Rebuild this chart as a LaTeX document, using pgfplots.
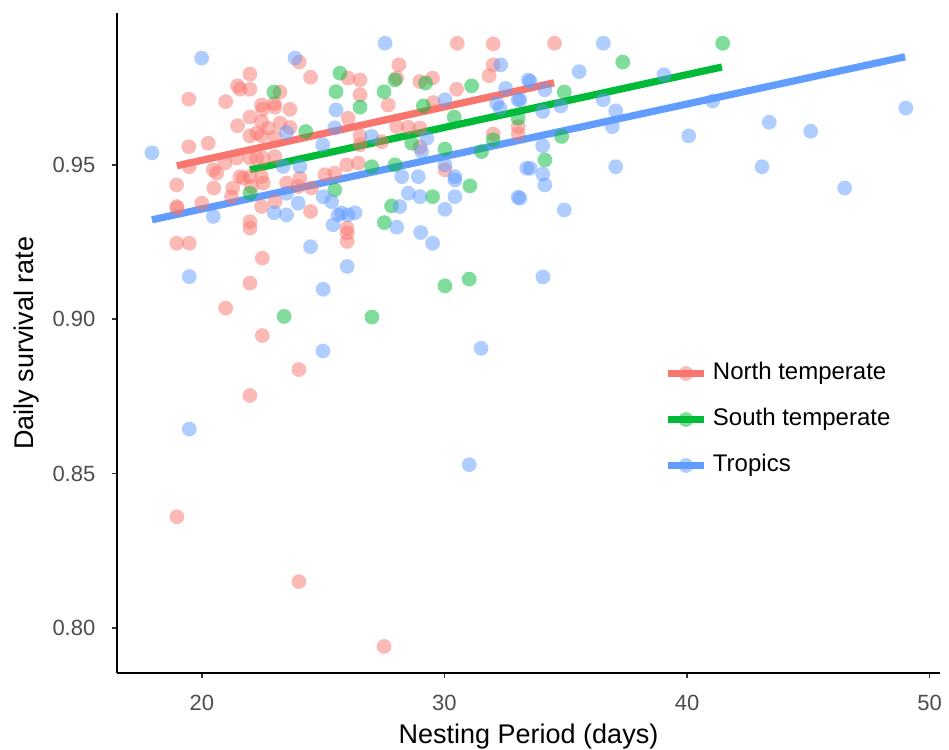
\documentclass[border=0pt]{standalone}
\usepackage{fontspec}
\setmainfont{Liberation Sans}
\usepackage{pgfplots}
\pgfplotsset{compat=1.18}

\definecolor{nt}{HTML}{F8766D}
\definecolor{st}{HTML}{00BA38}
\definecolor{tr}{HTML}{619CFF}
\definecolor{tickgrey}{HTML}{4D4D4D}

\pgfplotsset{
  pts/.style={only marks, mark=*, mark size=3.7pt, forget plot,
    color=#1, fill opacity=0.5, draw opacity=0},
  fit/.style={#1, line width=3.6pt, forget plot},
  key/.style={legend image code/.code={
    \path[draw=none, fill=none] (0pt,0pt) -- (22.5pt,0pt);
    \draw[#1, line width=3.6pt] (0pt,0pt) -- (18pt,0pt);
    \fill[#1, fill opacity=0.5, draw=none] (9pt,0pt) circle (3.7pt);}},
}

\begin{document}
\begin{tikzpicture}
\begin{axis}[
  scale only axis, width=411.5pt, height=330pt,
  xmin=16.5, xmax=50.43, ymin=0.7854, ymax=0.9992,
  axis x line*=bottom, axis y line*=left,
  axis line style={line width=1.1pt, black, -},
  tick align=outside, major tick length=2.5pt,
  tick style={line width=0.9pt, black!80},
  xtick={20,30,40,50}, ytick={0.80,0.85,0.90,0.95},
  ticklabel style={font=\fontsize{11}{13}\selectfont, text=tickgrey},
  xticklabel style={yshift=-5pt},
  yticklabel style={xshift=-4.8pt},
  yticklabel style={/pgf/number format/.cd, fixed, fixed zerofill, precision=2},
  /pgf/number format/assume math mode=true,
  xlabel={Nesting Period (days)}, ylabel={Daily survival rate},
  label style={font=\fontsize{13.5}{16}\selectfont},
  xlabel style={at={(axis description cs:0.5,-0.077)}, anchor=north, inner sep=0pt},
  ylabel style={at={(axis description cs:-0.094,0.5)}, anchor=south, inner sep=0pt},
  legend style={draw=none, fill=none, at={(axis description cs:0.6646,0.471)},
    anchor=north west, inner sep=0pt, row sep=12pt,
    font=\fontsize{12}{14}\selectfont,
    nodes={inner sep=0pt, text height=8.6pt, text depth=2.4pt}},
  legend cell align=left,
]
% North temperate
\addplot[pts=nt] coordinates {
(24.01,0.9833)(24.48,0.9784)(21.98,0.9794)(21.47,0.9756)(21.57,0.9745)(21.98,0.9745)
(23.22,0.9736)(19.46,0.9713)(20.98,0.9705)(22.46,0.9694)(22.50,0.9680)(22.98,0.9698)
(23.01,0.9687)(23.63,0.9680)(21.98,0.9655)(21.47,0.9627)(22.46,0.9640)(23.22,0.9635)
(22.73,0.9619)(23.63,0.9621)(21.98,0.9594)(22.26,0.9603)(22.46,0.9594)(23.01,0.9590)
(20.26,0.9570)(19.46,0.9559)(20.95,0.9506)(21.43,0.9522)(21.98,0.9522)(22.26,0.9522)
(22.53,0.9522)(23.01,0.9527)(19.48,0.9494)(20.47,0.9484)(20.61,0.9473)(21.57,0.9462)
(21.98,0.9462)(22.46,0.9462)(18.96,0.9435)(20.49,0.9425)(21.27,0.9425)(21.22,0.9397)
(21.70,0.9457)(22.05,0.9430)(22.53,0.9441)(19.99,0.9376)(18.96,0.9365)(18.98,0.9360)
(21.98,0.9316)(21.98,0.9295)(22.46,0.9365)(23.01,0.9381)(23.49,0.9441)(24.04,0.9457)
(23.97,0.9430)(24.52,0.9425)(24.48,0.9349)(25.07,0.9468)(18.96,0.9246)(19.48,0.9246)
(22.49,0.9198)(21.98,0.9117)(20.98,0.9036)(22.49,0.8947)(24.00,0.8837)(21.98,0.8753)
(18.97,0.8360)(24.00,0.8150)(27.51,0.7940)
(30.53,0.9894)(32.01,0.9892)(28.12,0.9824)(32.01,0.9824)(31.84,0.9789)(26.03,0.9781)
(26.52,0.9775)(28.03,0.9781)(28.99,0.9770)(29.51,0.9781)(26.52,0.9727)(30.50,0.9745)
(27.68,0.9694)(29.54,0.9702)(26.03,0.9651)(26.52,0.9594)(26.52,0.9565)(28.03,0.9624)
(28.51,0.9622)(28.99,0.9619)(27.41,0.9575)(32.01,0.9600)(33.04,0.9624)(33.04,0.9600)
(25.97,0.9500)(28.99,0.9557)(25.48,0.9473)(26.45,0.9506)(30.02,0.9484)(25.99,0.9295)
(25.99,0.9279)(25.99,0.9252)(34.54,0.9894)
};
% South temperate
\addplot[pts=st] coordinates {
(22.97,0.9736)(24.28,0.9608)(21.98,0.9408)(25.48,0.9419)(23.39,0.9009)(27.01,0.9007)
(25.69,0.9797)(27.96,0.9775)(29.22,0.9765)(25.53,0.9737)(27.51,0.9737)(31.12,0.9756)
(26.52,0.9687)(29.13,0.9691)(30.40,0.9655)(28.65,0.9570)(32.01,0.9581)(33.04,0.9651)
(27.00,0.9494)(27.96,0.9500)(30.02,0.9551)(31.53,0.9543)(31.05,0.9432)(29.51,0.9397)
(27.82,0.9367)(27.52,0.9313)(30.02,0.9108)(31.02,0.9130)(41.47,0.9894)(37.35,0.9833)
(34.94,0.9736)(34.83,0.9592)(34.14,0.9516)
};
% Tropics
\addplot[pts=tr] coordinates {
(17.94,0.9539)(19.99,0.9846)(23.84,0.9846)(23.49,0.9605)(20.47,0.9333)(23.49,0.9338)
(23.49,0.9408)(22.98,0.9345)(23.97,0.9376)(25.00,0.9397)(25.35,0.9381)(25.41,0.9306)
(25.62,0.9338)(24.48,0.9235)(19.48,0.9138)(25.00,0.9097)(24.99,0.8897)(19.48,0.8644)
(31.51,0.8906)(31.02,0.8529)(27.55,0.9894)(32.32,0.9824)(30.02,0.9711)(32.52,0.9748)
(33.04,0.9711)(33.46,0.9775)(32.29,0.9684)(25.53,0.9678)(32.15,0.9700)(27.00,0.9592)
(29.27,0.9586)(29.06,0.9543)(30.02,0.9500)(33.39,0.9489)(28.24,0.9462)(28.92,0.9462)
(30.43,0.9462)(30.43,0.9451)(28.51,0.9408)(28.99,0.9397)(30.43,0.9397)(33.04,0.9395)
(28.16,0.9365)(30.02,0.9356)(25.76,0.9344)(26.03,0.9338)(26.31,0.9345)(28.03,0.9298)
(29.02,0.9281)(29.51,0.9246)(25.99,0.9171)(36.55,0.9894)(35.55,0.9802)(39.05,0.9792)
(33.53,0.9770)(34.14,0.9743)(33.11,0.9711)(36.55,0.9711)(34.79,0.9691)(34.05,0.9673)
(37.06,0.9675)(41.06,0.9707)(49.02,0.9684)(43.39,0.9638)(45.10,0.9609)(40.07,0.9594)
(36.92,0.9624)(34.05,0.9562)(37.06,0.9494)(43.09,0.9494)(33.53,0.9489)(34.05,0.9470)
(34.14,0.9435)(46.50,0.9425)(33.11,0.9392)(34.94,0.9354)(34.06,0.9137)(25.48,0.9620)
(24.98,0.9565)(23.35,0.9495)(24.04,0.9495)
};
% fitted lines
\addplot[fit=nt] coordinates {(18.97,0.9497) (34.52,0.9766)};
\addplot[fit=st] coordinates {(21.98,0.9484) (41.44,0.9817)};
\addplot[fit=tr] coordinates {(17.94,0.9322) (48.99,0.9850)};

\addlegendimage{key=nt}
\addlegendentry{North temperate}
\addlegendimage{key=st}
\addlegendentry{South temperate}
\addlegendimage{key=tr}
\addlegendentry{Tropics}
\end{axis}
\path ([xshift=-58.5pt, yshift=-38pt]current axis.south west) rectangle ([xshift=4.5pt, yshift=6.5pt]current axis.north east);
\end{tikzpicture}
\end{document}
